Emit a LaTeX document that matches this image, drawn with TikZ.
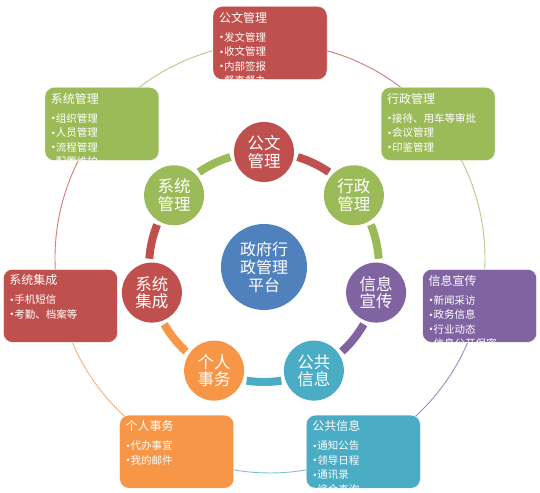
\documentclass[tikz,border=0pt]{standalone}
\usepackage{fontspec}
\setmainfont{Noto Sans CJK SC}
\newfontfamily\dejavu{DejaVu Sans}
\usetikzlibrary{calc}

\definecolor{ored}{HTML}{C0504D}
\definecolor{ogreen}{HTML}{9BBB59}
\definecolor{opurple}{HTML}{8064A2}
\definecolor{oteal}{HTML}{4BACC6}
\definecolor{oorange}{HTML}{F79646}
\definecolor{oblue}{HTML}{4F81BD}

\tikzset{
  hub/.style={circle, fill=#1, minimum size=60pt, inner sep=0pt, text=white,
    align=center, font=\fontsize{16.5}{17.5}\selectfont},
  ring/.style={draw=#1, line width=8pt},
  halo/.style={draw=#1!75, line width=0.9pt},
  infobox/.style={rectangle, rounded corners=9pt, fill=#1, draw=white, thin,
    minimum width=114pt, minimum height=73pt, inner sep=0pt},
  boxtext/.style={text=white, align=left, inner sep=0pt, anchor=north west,
    font=\fontsize{10.5}{14.5}\selectfont}
}

% small bullet in front of each item
\newcommand{\itm}{\makebox[5pt][l]{\raisebox{0.5pt}{\dejavu\fontsize{8.5}{8.5}\selectfont •}}}

% name, centre, colour, title, items
\newcommand{\infobox}[5]{%
  \node[infobox=#3] (#1) at (#2) {};
  \begin{scope}
    \clip[rounded corners=9pt] (#1.south west) rectangle (#1.north east);
    \node[boxtext] (#1text) at ([xshift=6pt, yshift=-5.5pt]#1.north west)
      {{\fontsize{12}{14}\selectfont #4}\\[4.5pt] #5};
  \end{scope}}

\begin{document}
\begin{tikzpicture}[x=1pt, y=1pt]
  \useasboundingbox (0,0) rectangle (540,492);
  \coordinate (O) at (264,225);
  \coordinate (C) at (270,234);

  \draw[halo=ored] (C) ++(90:215) arc[start angle=90, end angle=38.57, radius=215];
  \draw[halo=ogreen] (C) ++(38.57:215) arc[start angle=38.57, end angle=-12.86, radius=215];
  \draw[halo=opurple] (C) ++(-12.86:215) arc[start angle=-12.86, end angle=-64.29, radius=215];
  \draw[halo=oteal] (C) ++(-64.29:215) arc[start angle=-64.29, end angle=-115.71, radius=215];
  \draw[halo=oorange] (C) ++(-115.71:215) arc[start angle=-115.71, end angle=-167.14, radius=215];
  \draw[halo=ored] (C) ++(192.86:215) arc[start angle=192.86, end angle=141.43, radius=215];
  \draw[halo=ogreen] (C) ++(141.43:215) arc[start angle=141.43, end angle=90, radius=215];

  \infobox{gwbox}{$(C)+(90:215)$}{ored}{公文管理}{\itm 发文管理\\\itm 收文管理\\\itm 内部签报\\\itm 督查督办}
  \infobox{xzbox}{$(C)+(38.57:215)$}{ogreen}{行政管理}{\itm 接待、用车等审批\\\itm 会议管理\\\itm 印鉴管理}
  \infobox{xxbox}{$(C)+(-12.86:215)$}{opurple}{信息宣传}{\itm 新闻采访\\\itm 政务信息\\\itm 行业动态\\\itm 信息公开保密}
  \infobox{ggbox}{$(C)+(-64.29:215)$}{oteal}{公共信息}{\itm 通知公告\\\itm 领导日程\\\itm 通讯录\\\itm 综合查询}
  \infobox{grbox}{$(C)+(-115.71:215)$}{oorange}{个人事务}{\itm 代办事宜\\\itm 我的邮件}
  \infobox{jcbox}{$(C)+(192.86:215)$}{ored}{系统集成}{\itm 手机短信\\\itm 考勤、档案等}
  \infobox{glbox}{$(C)+(141.43:215)$}{ogreen}{系统管理}{\itm 组织管理\\\itm 人员管理\\\itm 流程管理\\\itm 配置维护}

  \draw[ring=ored] (O) ++(73:115) arc[start angle=73, end angle=55.57, radius=115];
  \draw[ring=ogreen] (O) ++(21.57:115) arc[start angle=21.57, end angle=4.14, radius=115];
  \draw[ring=opurple] (O) ++(-29.86:115) arc[start angle=-29.86, end angle=-47.29, radius=115];
  \draw[ring=oteal] (O) ++(-81.29:115) arc[start angle=-81.29, end angle=-98.72, radius=115];
  \draw[ring=oorange] (O) ++(-132.71:115) arc[start angle=-132.71, end angle=-150.14, radius=115];
  \draw[ring=ored] (O) ++(175.86:115) arc[start angle=175.86, end angle=158.43, radius=115];
  \draw[ring=ogreen] (O) ++(124.43:115) arc[start angle=124.43, end angle=107, radius=115];

  \node[hub=oblue, minimum size=86pt, font=\fontsize{16}{18}\selectfont] (core) at (O) {政府行\\政管理\\平台};
  \node[hub=ored] (gw) at ($(O)+(90:115)$) {公文\\管理};
  \node[hub=ogreen] (xz) at ($(O)+(38.57:115)$) {行政\\管理};
  \node[hub=opurple] (xx) at ($(O)+(-12.86:115)$) {信息\\宣传};
  \node[hub=oteal] (gg) at ($(O)+(-64.29:115)$) {公共\\信息};
  \node[hub=oorange] (gr) at ($(O)+(-115.71:115)$) {个人\\事务};
  \node[hub=ored] (jc) at ($(O)+(192.86:115)$) {系统\\集成};
  \node[hub=ogreen] (gl) at ($(O)+(141.43:115)$) {系统\\管理};
\end{tikzpicture}
\end{document}
